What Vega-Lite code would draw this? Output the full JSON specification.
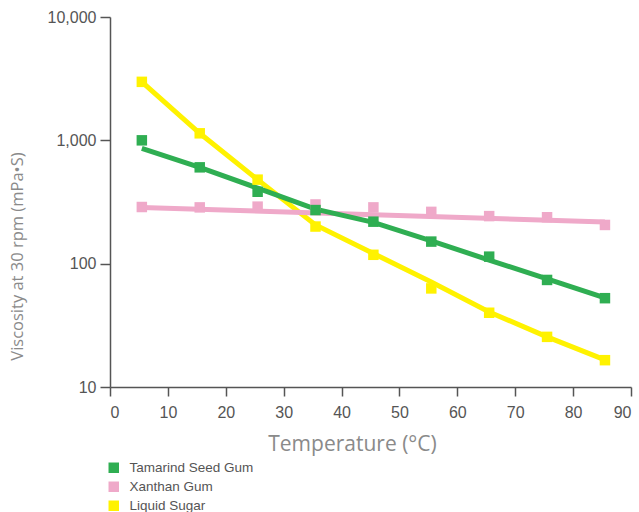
{
  "$schema": "https://vega.github.io/schema/vega-lite/v6.json",
  "width": 521,
  "height": 370,
  "autosize": "none",
  "padding": {"left": 110, "top": 17, "right": 8, "bottom": 125},
  "background": "white",
  "config": {
    "view": {"stroke": null},
    "axis": {
      "grid": false,
      "domainColor": "#555555",
      "domainWidth": 1.5,
      "tickColor": "#555555",
      "tickWidth": 1.5,
      "labelFont": "Liberation Sans",
      "labelFontSize": 16,
      "labelColor": "#555555",
      "titleFont": "Open Sans",
      "titleFontWeight": "normal",
      "titleColor": "#8a8a8a"
    }
  },
  "datasets": {
    "markers": [
      {"series": "Liquid Sugar", "temp": 5.5, "visc": 2980},
      {"series": "Liquid Sugar", "temp": 15.5, "visc": 1140},
      {"series": "Liquid Sugar", "temp": 25.5, "visc": 480},
      {"series": "Liquid Sugar", "temp": 35.5, "visc": 200},
      {"series": "Liquid Sugar", "temp": 45.5, "visc": 118},
      {"series": "Liquid Sugar", "temp": 55.5, "visc": 63},
      {"series": "Liquid Sugar", "temp": 65.5, "visc": 40},
      {"series": "Liquid Sugar", "temp": 75.5, "visc": 25.5},
      {"series": "Liquid Sugar", "temp": 85.5, "visc": 16.5},
      {"series": "Xanthan Gum", "temp": 5.5, "visc": 288},
      {"series": "Xanthan Gum", "temp": 15.5, "visc": 286},
      {"series": "Xanthan Gum", "temp": 25.5, "visc": 290},
      {"series": "Xanthan Gum", "temp": 35.5, "visc": 302},
      {"series": "Xanthan Gum", "temp": 45.5, "visc": 286},
      {"series": "Xanthan Gum", "temp": 55.5, "visc": 263},
      {"series": "Xanthan Gum", "temp": 65.5, "visc": 243},
      {"series": "Xanthan Gum", "temp": 75.5, "visc": 238},
      {"series": "Xanthan Gum", "temp": 85.5, "visc": 206},
      {"series": "Tamarind Seed Gum", "temp": 5.5, "visc": 1000},
      {"series": "Tamarind Seed Gum", "temp": 15.5, "visc": 604},
      {"series": "Tamarind Seed Gum", "temp": 25.5, "visc": 383},
      {"series": "Tamarind Seed Gum", "temp": 35.5, "visc": 272},
      {"series": "Tamarind Seed Gum", "temp": 45.5, "visc": 219},
      {"series": "Tamarind Seed Gum", "temp": 55.5, "visc": 151},
      {"series": "Tamarind Seed Gum", "temp": 65.5, "visc": 114},
      {"series": "Tamarind Seed Gum", "temp": 75.5, "visc": 73.8},
      {"series": "Tamarind Seed Gum", "temp": 85.5, "visc": 52.5}
    ],
    "trend": [
      {"series": "Liquid Sugar", "temp": 5.5, "visc": 2980},
      {"series": "Liquid Sugar", "temp": 15.5, "visc": 1140},
      {"series": "Liquid Sugar", "temp": 25.5, "visc": 480},
      {"series": "Liquid Sugar", "temp": 35.5, "visc": 206},
      {"series": "Liquid Sugar", "temp": 45.5, "visc": 121},
      {"series": "Liquid Sugar", "temp": 55.5, "visc": 71},
      {"series": "Liquid Sugar", "temp": 65.5, "visc": 40.6},
      {"series": "Liquid Sugar", "temp": 75.5, "visc": 25.5},
      {"series": "Liquid Sugar", "temp": 85.5, "visc": 16.6},
      {"series": "Xanthan Gum", "temp": 5.5, "visc": 285},
      {"series": "Xanthan Gum", "temp": 85.5, "visc": 218},
      {"series": "Tamarind Seed Gum", "temp": 5.5, "visc": 860},
      {"series": "Tamarind Seed Gum", "temp": 15.5, "visc": 603},
      {"series": "Tamarind Seed Gum", "temp": 25.5, "visc": 410},
      {"series": "Tamarind Seed Gum", "temp": 35.5, "visc": 277},
      {"series": "Tamarind Seed Gum", "temp": 45.5, "visc": 216},
      {"series": "Tamarind Seed Gum", "temp": 55.5, "visc": 153},
      {"series": "Tamarind Seed Gum", "temp": 65.5, "visc": 107},
      {"series": "Tamarind Seed Gum", "temp": 75.5, "visc": 75.2},
      {"series": "Tamarind Seed Gum", "temp": 85.5, "visc": 52.7}
    ]
  },
  "encoding": {
    "x": {
      "field": "temp",
      "type": "quantitative",
      "scale": {"domain": [0, 90], "nice": false, "zero": false},
      "axis": {
        "values": [0, 10, 20, 30, 40, 50, 60, 70, 80, 90],
        "title": "Temperature (°C)",
        "titleFontSize": 21,
        "tickSize": 9,
        "labelPadding": 8,
        "titleX": 242,
        "titleY": 57,
        "titleAlign": "center",
        "titleBaseline": "middle"
      }
    },
    "y": {
      "field": "visc",
      "type": "quantitative",
      "scale": {"type": "log", "domain": [10, 10000], "nice": false},
      "axis": {
        "values": [10, 100, 1000, 10000],
        "format": ",",
        "title": "Viscosity at 30 rpm (mPa•S)",
        "titleFontSize": 16.5,
        "tickSize": 10,
        "labelPadding": 4,
        "titleX": -93,
        "titleY": 239,
        "titleAngle": -90,
        "titleAlign": "center",
        "titleBaseline": "middle"
      }
    },
    "color": {
      "field": "series",
      "type": "nominal",
      "scale": {
        "domain": ["Tamarind Seed Gum", "Xanthan Gum", "Liquid Sugar"],
        "range": ["#2fae52", "#efa9c9", "#fff200"]
      },
      "legend": {
        "orient": "none",
        "legendX": -3,
        "legendY": 444,
        "title": null,
        "symbolType": "square",
        "symbolSize": 100,
        "symbolStrokeWidth": 0,
        "labelFont": "Liberation Sans",
        "labelFontSize": 13.5,
        "labelColor": "#555555",
        "rowPadding": 4,
        "labelOffset": 9
      }
    }
  },
  "layer": [
    {
      "data": {"name": "trend"},
      "mark": {"type": "line", "strokeWidth": 5},
      "encoding": {"detail": {"field": "series"}}
    },
    {
      "data": {"name": "markers"},
      "mark": {"type": "point", "shape": "square", "filled": true, "opacity": 1},
      "encoding": {
        "size": {
          "field": "series",
          "type": "nominal",
          "scale": {"domain": ["Tamarind Seed Gum", "Xanthan Gum", "Liquid Sugar"], "range": [110, 110, 170]},
          "legend": null
        }
      }
    }
  ]
}
